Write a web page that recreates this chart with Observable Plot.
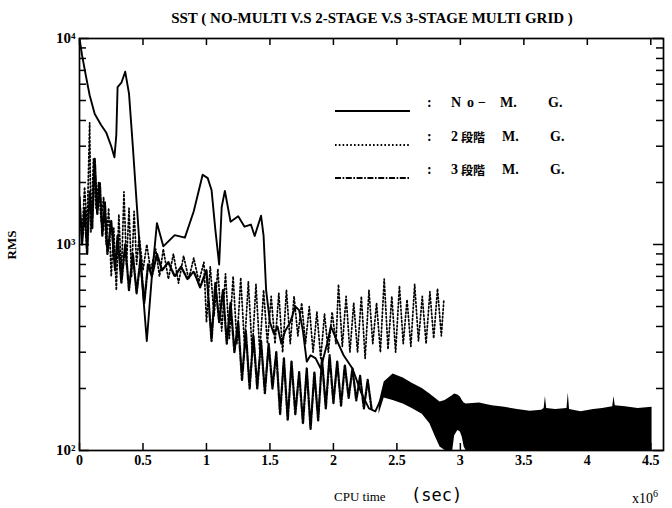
<!DOCTYPE html>
<html><head><meta charset="utf-8">
<script src="https://cdn.jsdelivr.net/npm/d3@7"></script>
<script src="https://cdn.jsdelivr.net/npm/@observablehq/plot@0.6"></script>
<style>
html,body{margin:0;padding:0;background:#fff;}
#wrap{position:relative;width:672px;height:508px;overflow:hidden;font-family:"Liberation Serif",serif;color:#000;}
.lbl{position:absolute;white-space:nowrap;line-height:1;}
.leg{position:absolute;white-space:nowrap;line-height:1;font-weight:bold;font-size:14px;}
.cjk{font-family:"Noto Sans CJK JP",sans-serif;font-size:12px;}
sup{font-size:10px;vertical-align:6px;}
</style></head><body>
<div id="wrap"></div>
<script>
// ---- data (CPU time in units of 10^6 s, RMS) ----
const noMgX   = [0,0.02,0.05,0.08,0.12,0.17,0.21,0.25,0.275,0.29,0.30,0.33,0.36,0.39,0.42,0.45,0.49,0.53,0.57,0.61,0.66,0.75,0.83,0.90,0.97,1.01,1.04,1.07,1.10,1.12,1.145,1.19,1.25,1.30,1.35,1.38,1.43,1.45,1.47,1.50,1.53,1.56,1.59,1.62,1.66,1.70,1.73,1.76,1.79,1.82,1.86,1.90,1.95,1.98,2.02,2.08,2.15,2.22,2.28,2.33,2.37];
const noMgRms = [10000,8300,6600,5300,4300,3800,3500,3000,2650,3400,5800,6100,6900,5400,3000,1600,700,340,700,1270,980,1110,1080,1450,2180,2100,1840,1180,800,1520,1820,1290,1370,1220,1250,1100,1380,1100,600,420,370,400,330,380,420,500,480,380,270,290,280,250,330,400,350,290,250,190,160,155,175];

const bandX    = [2.36,2.40,2.47,2.55,2.62,2.70,2.76,2.80,2.84,2.88,2.94,2.955,2.98,3.00,3.015,3.03,3.045,3.15,3.25,3.35,3.45,3.55,3.64,3.66,3.67,3.68,3.75,3.84,3.85,3.86,3.95,4.05,4.12,4.20,4.21,4.22,4.30,4.40,4.51];
const bandLow  = [150,180,175,168,160,150,135,118,104,100,100,118,125,123,116,104,100,100,100,100,100,100,100,100,100,100,100,100,100,100,100,100,100,100,100,100,100,100,100];
const bandHigh = [170,215,235,225,212,200,188,180,172,175,185,188,186,182,175,170,168,170,165,162,158,155,157,160,183,160,158,160,190,158,154,158,160,163,183,165,163,160,162];

const twoX   = [0.00,0.02,0.04,0.06,0.08,0.09,0.11,0.13,0.15,0.17,0.19,0.21,0.23,0.25,0.27,0.29,0.31,0.33,0.35,0.37,0.39,0.41,0.43,0.45,0.47,0.50,0.53,0.56,0.60,0.63,0.66,0.70,0.74,0.78,0.82,0.86,0.90,0.94,0.98,1.00,1.03,1.06,1.09,1.12,1.15,1.18,1.21,1.24,1.27,1.30,1.33,1.36,1.39,1.42,1.45,1.48,1.51,1.54,1.57,1.60,1.63,1.66,1.69,1.72,1.75,1.78,1.81,1.84,1.87,1.90,1.93,1.96,1.99,2.02,2.04,2.07,2.10,2.13,2.16,2.19,2.22,2.25,2.28,2.31,2.34,2.37,2.40,2.43,2.46,2.49,2.52,2.55,2.58,2.61,2.64,2.67,2.70,2.73,2.76,2.79,2.82,2.85,2.87];
const twoRms = [1600,1100,1900,1200,3900,1150,2600,1500,2000,1300,1700,1000,1500,700,1200,600,1400,700,1800,800,1500,700,1450,800,1100,750,1000,750,950,700,950,680,900,650,880,680,860,660,820,420,780,450,760,380,720,350,700,330,690,320,660,300,640,300,600,330,560,330,580,300,600,330,560,360,520,330,500,300,470,280,460,300,470,330,640,320,560,300,520,300,560,280,600,330,520,300,680,310,560,300,630,330,540,320,640,340,560,330,590,350,610,360,540];

const threeX   = [0.00,0.02,0.04,0.06,0.08,0.10,0.12,0.14,0.16,0.18,0.20,0.22,0.25,0.28,0.30,0.33,0.36,0.39,0.42,0.45,0.48,0.51,0.54,0.57,0.61,0.65,0.70,0.75,0.80,0.85,0.90,0.95,1.00,1.04,1.07,1.10,1.13,1.16,1.19,1.22,1.25,1.28,1.31,1.34,1.37,1.40,1.43,1.46,1.49,1.52,1.55,1.58,1.61,1.64,1.67,1.70,1.73,1.76,1.79,1.82,1.85,1.88,1.91,1.94,1.97,2.00,2.03,2.06,2.09,2.12,2.15,2.18,2.21,2.24,2.27,2.30];
const threeRms = [1700,1000,1500,900,1800,1200,2600,1400,2000,1100,1600,900,1300,750,1100,650,1000,600,900,580,850,520,800,700,900,750,820,700,780,680,740,620,750,340,650,420,600,330,520,300,420,220,380,200,360,200,340,190,330,200,300,150,280,140,270,150,240,135,250,127,240,140,280,160,290,170,270,165,260,180,250,175,230,160,220,160];

const xTicks = [0,0.5,1,1.5,2,2.5,3,3.5,4,4.5];
const yMajor = [100,1000,10000];
const yMajorLabels = ["10²","10³","10⁴"];
const yMinor = [200,300,400,500,600,700,800,900,2000,3000,4000,5000,6000,7000,8000,9000];

const title = "SST ( NO-MULTI V.S 2-STAGE V.S 3-STAGE MULTI GRID )";
const legendLabels = [["N","o","−","M.","G."],["2","段階","M.","G."],["3","段階","M.","G."]];

// ---- build tables ----
const noMg = noMgX.map((x,i)=>({x, y:noMgRms[i]}));
const band = bandX.map((x,i)=>({x, lo:bandLow[i], hi:bandHigh[i]}));
const two = twoX.map((x,i)=>({x, y:twoRms[i]}));
const three = threeX.map((x,i)=>({x, y:threeRms[i]}));

const W = 672, H = 508, mL = 79, mR = 9, mT = 38, mB = 58;
const pw = W - mL - mR, ph = H - mT - mB;
const tickStyle = {stroke: "#000", strokeWidth: 1.5};
const chart = Plot.plot({
  width: W, height: H,
  marginLeft: mL, marginRight: mR, marginTop: mT, marginBottom: mB,
  style: {fontFamily: "Liberation Serif", fontSize: "13px", color: "#000", background: "#fff"},
  x: {domain: [0, 4.6], label: null},
  y: {type: "log", domain: [100, 10000], label: null},
  marks: [
    Plot.areaY(band, {x: "x", y1: "lo", y2: "hi", fill: "#000"}),
    Plot.line(three, {x: "x", y: "y", stroke: "#000", strokeWidth: 2.3, strokeDasharray: "6,1.6,1.6,1.6", clip: true}),
    Plot.line(two, {x: "x", y: "y", stroke: "#000", strokeWidth: 1.7, strokeDasharray: "1.6,2.2", clip: true}),
    Plot.line(noMg, {x: "x", y: "y", stroke: "#000", strokeWidth: 1.9, clip: true}),
    // inward ticks
    Plot.tickX(xTicks, {x: d => d, insetTop: ph - 7, ...tickStyle}),
    Plot.tickX(xTicks, {x: d => d, insetBottom: ph - 7, ...tickStyle}),
    Plot.tickY(yMinor, {y: d => d, insetRight: pw - 7, ...tickStyle}),
    Plot.tickY(yMinor, {y: d => d, insetLeft: pw - 7, ...tickStyle}),
    Plot.tickY(yMajor, {y: d => d, insetRight: pw - 10, ...tickStyle}),
    Plot.tickY(yMajor, {y: d => d, insetLeft: pw - 10, ...tickStyle}),
    Plot.frame({stroke: "#000", strokeWidth: 1.7}),
    Plot.axisX({anchor: "bottom", ticks: xTicks, tickSize: 0, tickPadding: 5, tickFormat: d => String(d), fontWeight: "bold", fontSize: 14}),
    Plot.axisY({anchor: "left", ticks: yMajor, tickSize: 0, tickPadding: 4, tickFormat: d => yMajorLabels[yMajor.indexOf(d)], fontWeight: "bold", fontSize: 15})
  ]
});
const wrap = document.getElementById("wrap");
chart.style.position = "absolute"; chart.style.left = "0"; chart.style.top = "0";
wrap.appendChild(chart);

function add(html, css, cls="lbl"){
  const d = document.createElement("div");
  d.className = cls; d.innerHTML = html;
  Object.assign(d.style, css);
  wrap.appendChild(d);
  return d;
}
add(title, {left: "0", width: "744px", textAlign: "center", top: "11px", fontSize: "15px", fontWeight: "bold"});
add("RMS", {left: "-3px", top: "245px", fontSize: "13px", fontWeight: "bold", transform: "translate(0,-50%) rotate(-90deg)", transformOrigin: "center"});
add("CPU time", {left: "334px", top: "490px", fontSize: "13px"});
add("(sec)", {left: "411px", top: "487px", fontSize: "17px", fontFamily: "'DejaVu Sans Mono',monospace"});
add("x10<sup>6</sup>", {left: "632px", top: "489px", fontSize: "14px"});

// legend
const rowY = [104, 138, 171];
const dashes = [null, "1.6,2.2", "6,1.6,1.6,1.6"];
const tokX = [[451,467,478,500,548],[451,461,502,550],[451,461,502,550]];
rowY.forEach((y, r) => {
  add(`<svg width="80" height="6"><line x1="2" y1="3" x2="77" y2="3" stroke="#000" stroke-width="1.8" ${dashes[r] ? `stroke-dasharray="${dashes[r]}"` : ""}/></svg>`,
      {left: "333px", top: (y - 3) + "px"});
  add(":", {left: "427px", top: (y - 8) + "px"}, "leg");
  legendLabels[r].forEach((t, i) => {
    const isCjk = /[\u3000-\u9fff]/.test(t);
    add(t, {left: tokX[r][i] + "px", top: (y - (isCjk ? 7 : 8)) + "px"}, isCjk ? "leg cjk" : "leg");
  });
});
</script>
</body></html>
